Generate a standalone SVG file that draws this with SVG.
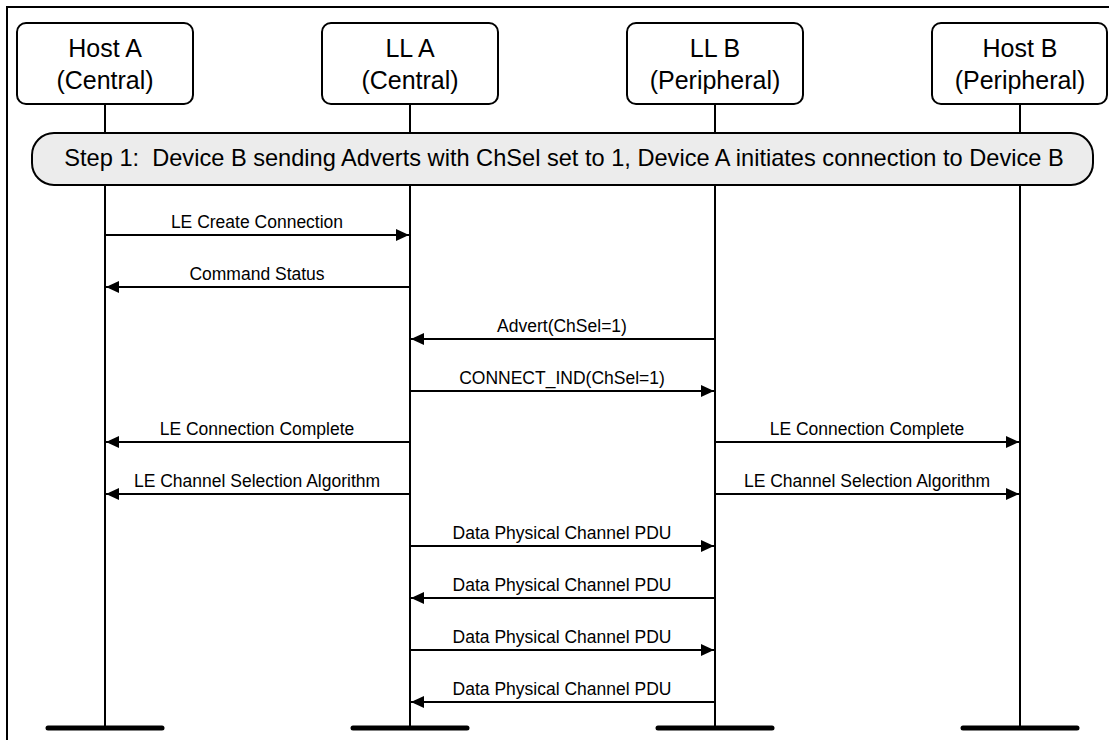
<svg xmlns="http://www.w3.org/2000/svg" width="1109" height="740" viewBox="0 0 1109 740">
  <style>
    .frame{fill:none;stroke:#000;stroke-width:2}
    .box{fill:#fff;stroke:#000;stroke-width:2}
    .boxt{font-family:"Liberation Sans",Arial,sans-serif;font-size:25px;fill:#000;text-anchor:middle}
    .life{stroke:#000;stroke-width:2;fill:none}
    .bar{stroke:#000;stroke-width:5;stroke-linecap:round}
    .banner{fill:#ececec;stroke:#000;stroke-width:2}
    .bant{font-family:"Liberation Sans",Arial,sans-serif;font-size:23.6px;fill:#000;text-anchor:middle}
    .msg{stroke:#000;stroke-width:2;fill:none;marker-end:url(#ah)}
    .lbl{font-family:"Liberation Sans",Arial,sans-serif;font-size:17.5px;fill:#000;text-anchor:middle}
  </style>
  <defs>
    <marker id="ah" markerUnits="userSpaceOnUse" markerWidth="14" markerHeight="12" refX="13" refY="6" orient="auto">
      <path d="M0,0 L13,6 L0,12 Z" fill="#000"/>
    </marker>
  </defs>
  <rect x="0" y="0" width="1109" height="740" fill="#fff"/>
  <rect class="frame" x="7" y="7" width="1120" height="760"/>

  <g id="lifelines">
    <line class="life" x1="105" y1="104" x2="105" y2="728"/>
    <line class="life" x1="410" y1="104" x2="410" y2="728"/>
    <line class="life" x1="715" y1="104" x2="715" y2="728"/>
    <line class="life" x1="1020" y1="104" x2="1020" y2="728"/>
    <line class="bar" x1="48" y1="728" x2="162" y2="728"/>
    <line class="bar" x1="353" y1="728" x2="467" y2="728"/>
    <line class="bar" x1="658" y1="728" x2="772" y2="728"/>
    <line class="bar" x1="963" y1="728" x2="1077" y2="728"/>
  </g>

  <g id="hostA">
    <rect class="box" x="17" y="23" width="176" height="81" rx="9"/>
    <text class="boxt" x="105" y="57">Host A</text>
    <text class="boxt" x="105" y="89">(Central)</text>
  </g>
  <g id="llA">
    <rect class="box" x="322" y="23" width="176" height="81" rx="9"/>
    <text class="boxt" x="410" y="57">LL A</text>
    <text class="boxt" x="410" y="89">(Central)</text>
  </g>
  <g id="llB">
    <rect class="box" x="627" y="23" width="176" height="81" rx="9"/>
    <text class="boxt" x="715" y="57">LL B</text>
    <text class="boxt" x="715" y="89">(Peripheral)</text>
  </g>
  <g id="hostB">
    <rect class="box" x="932" y="23" width="175" height="81" rx="9"/>
    <text class="boxt" x="1020" y="57">Host B</text>
    <text class="boxt" x="1020" y="89">(Peripheral)</text>
  </g>

  <g id="step1">
    <rect class="banner" x="32" y="133" width="1061" height="52" rx="22"/>
    <text class="bant" x="564" y="166" xml:space="preserve">Step 1:  Device B sending Adverts with ChSel set to 1, Device A initiates connection to Device B</text>
  </g>

  <g id="connectors">
    <line class="msg" x1="105" y1="235" x2="409" y2="235"/>
    <text class="lbl" x="257" y="228">LE Create Connection</text>
    <line class="msg" x1="410" y1="287" x2="106" y2="287"/>
    <text class="lbl" x="257" y="280">Command Status</text>
    <line class="msg" x1="715" y1="339" x2="411" y2="339"/>
    <text class="lbl" x="562" y="332">Advert(ChSel=1)</text>
    <line class="msg" x1="410" y1="391" x2="714" y2="391"/>
    <text class="lbl" x="562" y="384">CONNECT_IND(ChSel=1)</text>
    <line class="msg" x1="410" y1="442" x2="106" y2="442"/>
    <text class="lbl" x="257" y="435">LE Connection Complete</text>
    <line class="msg" x1="715" y1="442" x2="1019" y2="442"/>
    <text class="lbl" x="867" y="435">LE Connection Complete</text>
    <line class="msg" x1="410" y1="494" x2="106" y2="494"/>
    <text class="lbl" x="257" y="487">LE Channel Selection Algorithm</text>
    <line class="msg" x1="715" y1="494" x2="1019" y2="494"/>
    <text class="lbl" x="867" y="487">LE Channel Selection Algorithm</text>
    <line class="msg" x1="410" y1="546" x2="714" y2="546"/>
    <text class="lbl" x="562" y="539">Data Physical Channel PDU</text>
    <line class="msg" x1="715" y1="598" x2="411" y2="598"/>
    <text class="lbl" x="562" y="591">Data Physical Channel PDU</text>
    <line class="msg" x1="410" y1="650" x2="714" y2="650"/>
    <text class="lbl" x="562" y="643">Data Physical Channel PDU</text>
    <line class="msg" x1="715" y1="702" x2="411" y2="702"/>
    <text class="lbl" x="562" y="695">Data Physical Channel PDU</text>
  </g>
</svg>
